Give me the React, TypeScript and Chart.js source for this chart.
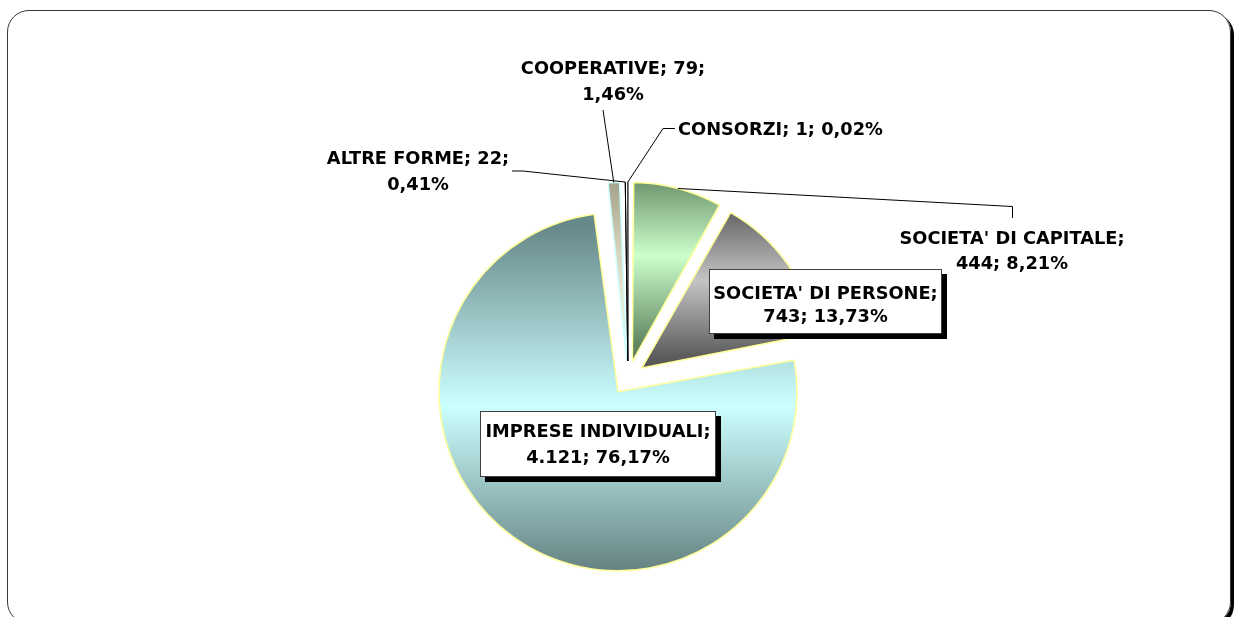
import React, { useEffect, useRef } from "react";
import { Chart, registerables } from "chart.js";

Chart.register(...registerables);

// ---- data ----
const categories = [
  "SOCIETA' DI CAPITALE",
  "SOCIETA' DI PERSONE",
  "IMPRESE INDIVIDUALI",
  "COOPERATIVE",
  "ALTRE FORME",
  "CONSORZI",
];
const counts = [444, 743, 4121, 79, 22, 1];
const countLabels = ["444", "743", "4.121", "79", "22", "1"];
const percentLabels = ["8,21%", "13,73%", "76,17%", "1,46%", "0,41%", "0,02%"];

// ---- styles ----
const RADIUS = 179;
const EXPLODE = 17;
const FONT_SIZE = 17.8;
const FONT = `bold ${FONT_SIZE}px "DejaVu Sans"`;
const gradientStops: string[][] = [
  ["#5c805c", "#ccffcc", "#5f845f"],
  ["#585858", "#c4c4c4", "#5a5a5a"],
  ["#68898a", "#ccffff", "#5d7878"],
  ["#9a9680", "#d8d6c0", "#f6f6de"],
  ["#a03a90", "#5a0a50", "#200018"],
  ["#ff7fae", "#ff7fae", "#ff7fae"],
];
const borderColors = ["#ffff99", "#ffff99", "#ffff99", "#ccffff", "#000000", "#000000"];
const borderWidths = [1.5, 1.5, 1.5, 1.5, 1, 1.2];

// label layout: brk = where the text wraps
type LabelLayout = {
  brk: "name" | "count" | "none";
  cx: number;
  lineY: number[];
  align: "center" | "left";
  box?: [number, number, number, number];
  leader?: [number, number][];
};
const labelLayout: LabelLayout[] = [
  { brk: "name", cx: 1012, lineY: [238, 263], align: "center", leader: [[1012.5, 218], [1012.5, 206.5]] },
  { brk: "name", cx: 825.5, lineY: [293, 316], align: "center", box: [709, 269, 233, 65] },
  { brk: "name", cx: 598, lineY: [431, 457], align: "center", box: [480, 411, 236, 66] },
  { brk: "count", cx: 613, lineY: [67.5, 93.5], align: "center", leader: [[603, 110]] },
  { brk: "count", cx: 418, lineY: [158, 184], align: "center", leader: [[512, 171], [523, 171]] },
  { brk: "none", cx: 678, lineY: [129], align: "left", leader: [[675, 128.5], [663, 128.5]] },
];

function labelLines(i: number): string[] {
  const name = categories[i];
  const c = countLabels[i];
  const p = percentLabels[i];
  const b = labelLayout[i].brk;
  if (b === "name") return [name + ";", c + "; " + p];
  if (b === "count") return [name + "; " + c + ";", p];
  return [name + "; " + c + "; " + p];
}

const anchorOf = (arc: any) => {
  const mid = (arc.startAngle + arc.endAngle) / 2;
  const ax = arc.x + Math.cos(mid) * EXPLODE;
  const ay = arc.y + Math.sin(mid) * EXPLODE;
  return { ax, ay, mid };
};

const geometryPlugin = {
  id: "geometryFix",
  afterDatasetsUpdate(chart: any) {
    const meta = chart.getDatasetMeta(0);
    const ctx = chart.ctx as CanvasRenderingContext2D;
    meta.data.forEach((arc: any, i: number) => {
      const fix = 1 - Math.sin(Math.min(Math.PI, arc.circumference || 0));
      arc.outerRadius = RADIUS - EXPLODE * fix;
      const { ax, ay } = anchorOf(arc);
      let minY = ay;
      let maxY = ay;
      for (let k = 0; k <= 120; k++) {
        const a = arc.startAngle + ((arc.endAngle - arc.startAngle) * k) / 120;
        const y = ay + Math.sin(a) * RADIUS;
        minY = Math.min(minY, y);
        maxY = Math.max(maxY, y);
      }
      const g = ctx.createLinearGradient(0, minY, 0, maxY);
      const st = gradientStops[i];
      g.addColorStop(0, st[0]);
      g.addColorStop(0.5, st[1]);
      g.addColorStop(1, st[2]);
      arc.options = Object.assign({}, arc.options, { backgroundColor: g });
    });
  },
};

const labelPlugin = {
  id: "sliceLabels",
  afterDatasetsDraw(chart: any) {
    const meta = chart.getDatasetMeta(0);
    const ctx = chart.ctx as CanvasRenderingContext2D;
    ctx.save();
    ctx.strokeStyle = "#000";
    ctx.lineWidth = 1;
    meta.data.forEach((arc: any, i: number) => {
      const lay = labelLayout[i];
      if (!lay.leader) return;
      const { ax, ay, mid } = anchorOf(arc);
      const ex = ax + Math.cos(mid) * RADIUS;
      const ey = ay + Math.sin(mid) * RADIUS;
      ctx.beginPath();
      lay.leader.forEach((p, k) => (k === 0 ? ctx.moveTo(p[0], p[1]) : ctx.lineTo(p[0], p[1])));
      ctx.lineTo(ex, ey);
      ctx.stroke();
    });
    ctx.font = FONT;
    labelLayout.forEach((lay, i) => {
      if (lay.box) {
        const [x, y, w, h] = lay.box;
        ctx.fillStyle = "#000";
        ctx.fillRect(x + 5, y + 5, w, h);
        ctx.fillStyle = "#fff";
        ctx.fillRect(x, y, w, h);
        ctx.strokeStyle = "#404040";
        ctx.strokeRect(x + 0.5, y + 0.5, w - 1, h - 1);
      }
      ctx.fillStyle = "#000";
      ctx.textAlign = lay.align;
      ctx.textBaseline = "alphabetic";
      labelLines(i).forEach((t, k) => {
        ctx.fillText(t, lay.cx, lay.lineY[k] + FONT_SIZE * 0.364);
      });
    });
    ctx.restore();
  },
};

export default function App() {
  const canvasRef = useRef<HTMLCanvasElement | null>(null);

  useEffect(() => {
    if (!canvasRef.current) return;
    const chart = new Chart(canvasRef.current, {
      type: "pie",
      data: {
        labels: categories,
        datasets: [
          {
            data: counts,
            backgroundColor: gradientStops.map((s) => s[1]),
            borderColor: borderColors,
            borderWidth: borderWidths,
            offset: EXPLODE * 4,
          },
        ],
      },
      options: {
        responsive: false,
        animation: false,
        devicePixelRatio: 1,
        radius: RADIUS,
        layout: { padding: { left: 21, top: 139, right: 0, bottom: 0 } },
        plugins: {
          legend: { display: false },
          tooltip: { enabled: false },
        },
        events: [],
      } as any,
      plugins: [geometryPlugin, labelPlugin],
    });
    return () => chart.destroy();
  }, []);

  return (
    <div
      style={{
        position: "fixed",
        left: 0,
        top: 0,
        width: 1235,
        height: 617,
        overflow: "hidden",
        background: "#fff",
      }}
    >
      <div
        style={{
          position: "absolute",
          left: 7,
          top: 10,
          width: 1224,
          height: 614,
          boxSizing: "border-box",
          border: "1px solid #3a3a3a",
          borderRadius: 22,
          boxShadow: "3px 3px 0 #000",
        }}
      />
      <canvas
        ref={canvasRef}
        width={1235}
        height={617}
        style={{ position: "absolute", left: 0, top: 0, width: 1235, height: 617 }}
      />
    </div>
  );
}
